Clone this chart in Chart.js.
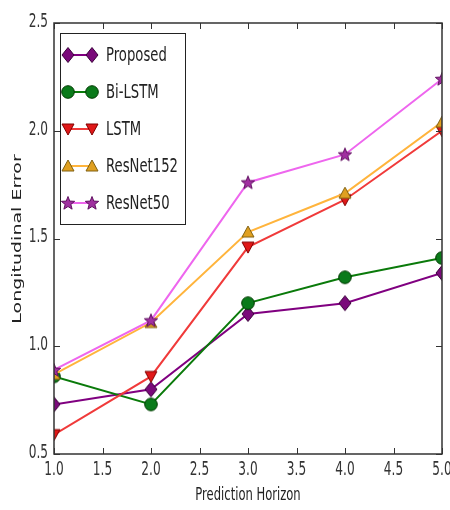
<!DOCTYPE html>
<html lang="en">
<head>
    <meta charset="UTF-8">
    <title>Longitudinal Error vs Prediction Horizon</title>
    <script src="https://cdn.jsdelivr.net/npm/chart.js"></script>
    <style>
        body { margin: 0; background: #ffffff; }
        #wrap { width: 450px; height: 510px; }
    </style>
</head>
<body>
<div id="wrap"><canvas id="errChart" width="450" height="510"></canvas></div>
<script>
    // Data
    const horizons = [1, 2, 3, 4, 5];
    const seriesNames = ['Proposed', 'Bi-LSTM', 'LSTM', 'ResNet152', 'ResNet50'];
    const proposed = [0.73, 0.80, 1.15, 1.20, 1.34];
    const biLstm = [0.86, 0.73, 1.20, 1.32, 1.41];
    const lstm = [0.59, 0.86, 1.46, 1.68, 2.00];
    const resnet152 = [0.87, 1.11, 1.53, 1.71, 2.04];
    const resnet50 = [0.89, 1.12, 1.76, 1.89, 2.24];
    const xTicks = [1.0, 1.5, 2.0, 2.5, 3.0, 3.5, 4.0, 4.5, 5.0];
    const yTicks = [0.5, 1.0, 1.5, 2.0, 2.5];

    const fontFam = "'DejaVu Sans', sans-serif";
    const squish = 0.64; // the original figure is squeezed sideways

    // marker images (matplotlib-like)
    function marker(kind, fill, edge) {
        const c = document.createElement('canvas');
        c.width = 18; c.height = 18;
        const g = c.getContext('2d');
        g.fillStyle = fill;
        g.strokeStyle = edge;
        g.lineWidth = 1;
        g.beginPath();
        if (kind === 'diamond') {
            g.moveTo(9, 1.5); g.lineTo(15, 9); g.lineTo(9, 16.5); g.lineTo(3, 9);
        } else if (kind === 'circle') {
            g.arc(9, 9, 6.3, 0, Math.PI * 2);
        } else if (kind === 'down') {
            g.moveTo(3, 4); g.lineTo(15, 4); g.lineTo(9, 15);
        } else if (kind === 'up') {
            g.moveTo(9, 3); g.lineTo(15, 14); g.lineTo(3, 14);
        } else if (kind === 'star') {
            for (let i = 0; i < 10; i++) {
                const r = i % 2 === 0 ? 7 : 3;
                const a = -Math.PI / 2 + i * Math.PI / 5;
                const px = 9 + r * Math.cos(a), py = 9.5 + r * Math.sin(a);
                if (i === 0) g.moveTo(px, py); else g.lineTo(px, py);
            }
        }
        g.closePath();
        g.fill();
        g.stroke();
        return c;
    }

    const styles = [
        { line: '#800080', img: marker('diamond', '#7a0a7a', '#3a003a') },
        { line: '#0a7a0a', img: marker('circle', '#0a7a1a', '#003a00') },
        { line: '#f03a3a', img: marker('down', '#e01818', '#800000') },
        { line: '#ffb43c', img: marker('up', '#e0a020', '#806010') },
        { line: '#ee66ee', img: marker('star', '#a030a0', '#601060') }
    ];
    const values = [proposed, biLstm, lstm, resnet152, resnet50];

    const datasets = values.map((vals, i) => ({
        label: seriesNames[i],
        data: horizons.map((h, j) => ({ x: h, y: vals[j] })),
        borderColor: styles[i].line,
        borderWidth: 2,
        pointStyle: styles[i].img,
        pointRadius: 6,
        fill: false,
        tension: 0,
        clip: 0,
        order: values.length - i
    }));

    // text squeezed horizontally like in the source image
    function squeezed(ctx, str, x, y, size, align, sx) {
        ctx.save();
        ctx.translate(x, y);
        ctx.scale(sx, 1);
        ctx.font = size + 'px ' + fontFam;
        ctx.textAlign = align;
        ctx.textBaseline = 'middle';
        ctx.fillText(str, 0, 0);
        ctx.restore();
    }

    // box, inward ticks, labels, axis titles and legend like matplotlib
    const mplDecor = {
        id: 'mplDecor',
        afterDraw(chart) {
            const ctx = chart.ctx;
            const a = chart.chartArea;
            const xs = chart.scales.x, ys = chart.scales.y;
            ctx.save();
            ctx.strokeStyle = '#333';
            ctx.lineWidth = 1.5;
            ctx.strokeRect(a.left, a.top, a.right - a.left, a.bottom - a.top);
            ctx.lineWidth = 1;
            ctx.beginPath();
            xTicks.forEach(v => {
                const px = Math.round(xs.getPixelForValue(v)) + 0.5;
                ctx.moveTo(px, a.bottom); ctx.lineTo(px, a.bottom - 6);
                ctx.moveTo(px, a.top); ctx.lineTo(px, a.top + 6);
            });
            yTicks.forEach(v => {
                const py = Math.round(ys.getPixelForValue(v)) + 0.5;
                ctx.moveTo(a.left, py); ctx.lineTo(a.left + 6, py);
                ctx.moveTo(a.right, py); ctx.lineTo(a.right - 6, py);
            });
            ctx.stroke();

            // tick labels
            ctx.fillStyle = '#333';
            xTicks.forEach(v => {
                squeezed(ctx, v.toFixed(1), xs.getPixelForValue(v), 470, 19, 'center', squish);
            });
            yTicks.forEach(v => {
                squeezed(ctx, v.toFixed(1), a.left - 6, ys.getPixelForValue(v) - 1, 19, 'right', squish);
            });

            // axis titles
            ctx.fillStyle = '#222';
            squeezed(ctx, 'Prediction Horizon', (a.left + a.right) / 2, 496, 17, 'center', 0.68);
            ctx.save();
            ctx.translate(18, 239);
            ctx.rotate(-Math.PI / 2);
            ctx.scale(1, squish);
            ctx.font = '19px ' + fontFam;
            ctx.textAlign = 'center';
            ctx.textBaseline = 'middle';
            ctx.fillText('Longitudinal Error', 0, 0);
            ctx.restore();

            // legend
            const lx = 60, ly = 33, lw = 125, lh = 191;
            ctx.fillStyle = '#fff';
            ctx.fillRect(lx, ly, lw, lh);
            ctx.strokeStyle = '#222';
            ctx.lineWidth = 1;
            ctx.strokeRect(lx + 0.5, ly + 0.5, lw, lh);
            chart.data.datasets.forEach((ds, i) => {
                const y = 55 + i * 37;
                ctx.strokeStyle = ds.borderColor;
                ctx.lineWidth = 2;
                ctx.beginPath();
                ctx.moveTo(68, y); ctx.lineTo(92, y);
                ctx.stroke();
                ctx.drawImage(ds.pointStyle, 59, y - 9);
                ctx.drawImage(ds.pointStyle, 83, y - 9);
                ctx.fillStyle = '#222';
                squeezed(ctx, ds.label, 106, y + 1, 20, 'left', 0.66);
            });
            ctx.restore();
        }
    };

    new Chart(document.getElementById('errChart'), {
        type: 'line',
        data: { datasets: datasets },
        options: {
            responsive: false,
            animation: false,
            layout: { padding: { top: 23, right: 8, left: 0, bottom: 0 } },
            plugins: { legend: { display: false }, tooltip: { enabled: false } },
            scales: {
                x: {
                    type: 'linear',
                    min: 1, max: 5,
                    afterFit: s => { s.height = 56; },
                    afterBuildTicks: s => { s.ticks = xTicks.map(v => ({ value: v })); },
                    ticks: { display: false },
                    grid: { display: false, drawTicks: false },
                    border: { display: false }
                },
                y: {
                    min: 0.5, max: 2.5,
                    afterFit: s => { s.width = 54; },
                    afterBuildTicks: s => { s.ticks = yTicks.map(v => ({ value: v })); },
                    ticks: { display: false },
                    grid: { display: false, drawTicks: false },
                    border: { display: false }
                }
            }
        },
        plugins: [mplDecor]
    });
</script>
</body>
</html>
